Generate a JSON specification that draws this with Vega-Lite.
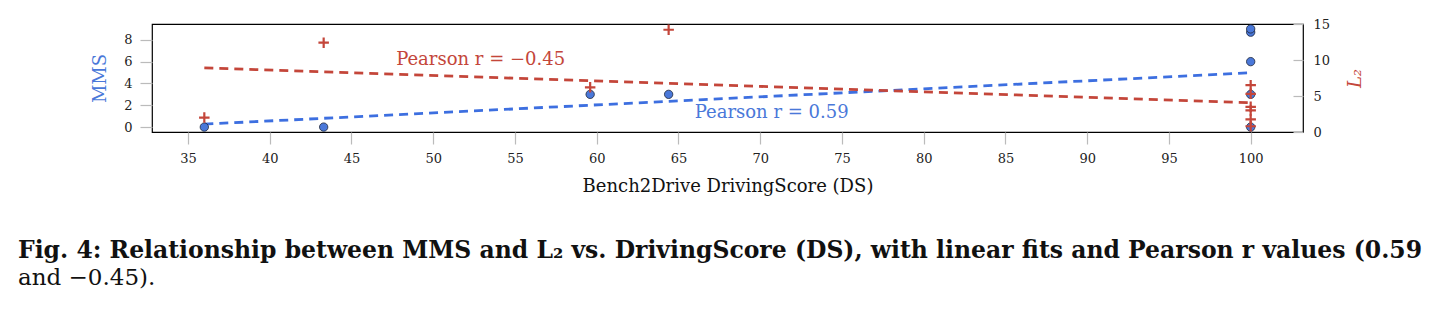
{
  "$schema": "https://vega.github.io/schema/vega-lite/v6.json",
  "width": 1151,
  "height": 108,
  "autosize": {"type": "none"},
  "padding": {"left": 152, "top": 24, "right": 139, "bottom": 182},
  "background": "white",
  "config": {
    "view": {"stroke": "#000000", "strokeWidth": 1.2},
    "font": "DejaVu Serif",
    "axis": {
      "labelFont": "DejaVu Serif",
      "titleFont": "DejaVu Serif",
      "grid": false,
      "domain": false,
      "tickColor": "#bbbbbb",
      "tickWidth": 1.2,
      "labelColor": "#222222",
      "labelFontSize": 13,
      "titleFontWeight": "normal",
      "titleFontSize": 18
    }
  },
  "datasets": {
    "mms": [
      {"ds": 36.0, "v": 0},
      {"ds": 43.3, "v": 0},
      {"ds": 59.6, "v": 3},
      {"ds": 64.4, "v": 3},
      {"ds": 100, "v": 0},
      {"ds": 100, "v": 3},
      {"ds": 100, "v": 6},
      {"ds": 100, "v": 8.7},
      {"ds": 100, "v": 9}
    ],
    "l2": [
      {"ds": 36.0, "v": 2.0},
      {"ds": 43.3, "v": 12.4},
      {"ds": 59.6, "v": 6.2},
      {"ds": 64.4, "v": 14.2},
      {"ds": 100, "v": 6.5},
      {"ds": 100, "v": 5.3},
      {"ds": 100, "v": 3.5},
      {"ds": 100, "v": 3.0},
      {"ds": 100, "v": 1.75},
      {"ds": 100, "v": 0.8}
    ],
    "fitMms": [
      {"ds": 36, "v": 0.27},
      {"ds": 100, "v": 4.98}
    ],
    "fitL2": [
      {"ds": 36, "v": 8.9},
      {"ds": 100, "v": 4.07}
    ],
    "labMms": [{"ds": 70.7, "v": 1.32, "t": "Pearson  r  =  0.59"}],
    "labL2": [{"ds": 52.9, "v": 10.0, "t": "Pearson  r  =  −0.45"}]
  },
  "encoding": {
    "x": {
      "field": "ds",
      "type": "quantitative",
      "scale": {"domain": [32.8, 103.2], "nice": false, "zero": false},
      "axis": {
        "orient": "bottom",
        "values": [35, 40, 45, 50, 55, 60, 65, 70, 75, 80, 85, 90, 95, 100],
        "tickSize": 12,
        "labelPadding": 8,
        "title": "Bench2Drive DrivingScore (DS)",
        "titlePadding": 12,
        "titleColor": "#111111"
      }
    }
  },
  "layer": [
    {
      "encoding": {
        "y": {
          "field": "v",
          "type": "quantitative",
          "scale": {"domain": [-0.45, 9.45], "nice": false, "zero": false},
          "axis": {
            "orient": "left",
            "values": [0, 2, 4, 6, 8],
            "tickSize": 12,
            "labelPadding": 8,
            "title": "MMS",
            "titleColor": "#4a78d9",
            "titlePadding": 14
          }
        }
      },
      "layer": [
        {
          "data": {"name": "fitMms"},
          "mark": {"type": "line", "color": "#3d6fe0", "strokeWidth": 2.8, "strokeDash": [9, 6]}
        },
        {
          "data": {"name": "mms"},
          "mark": {"type": "point", "shape": "circle", "filled": true, "fill": "#4a78d9", "stroke": "#1c2438", "strokeWidth": 0.8, "size": 70, "opacity": 1}
        },
        {
          "data": {"name": "labMms"},
          "mark": {"type": "text", "color": "#4a78d9", "fontSize": 18, "font": "DejaVu Serif"},
          "encoding": {"text": {"field": "t"}}
        }
      ]
    },
    {
      "encoding": {
        "y": {
          "field": "v",
          "type": "quantitative",
          "scale": {"domain": [0, 15], "nice": false, "zero": false},
          "axis": {
            "orient": "right",
            "values": [0, 5, 10, 15],
            "tickSize": -10,
            "labelPadding": 20,
            "title": "L₂",
            "titleFontStyle": "italic",
            "titleColor": "#c4463a",
            "titleAngle": 270,
            "titlePadding": 35
          }
        }
      },
      "layer": [
        {
          "data": {"name": "fitL2"},
          "mark": {"type": "line", "color": "#c4463a", "strokeWidth": 2.8, "strokeDash": [9, 6]}
        },
        {
          "data": {"name": "l2"},
          "mark": {"type": "point", "shape": "M-1,0L1,0M0,-1L0,1", "filled": false, "stroke": "#c4463a", "strokeWidth": 2.2, "size": 110, "opacity": 1}
        },
        {
          "data": {"name": "labL2"},
          "mark": {"type": "text", "color": "#c4463a", "fontSize": 18, "font": "DejaVu Serif"},
          "encoding": {"text": {"field": "t"}}
        }
      ]
    }
  ],
  "resolve": {"scale": {"y": "independent"}},
  "title": {
    "text": "Fig. 4: Relationship between MMS and L₂ vs. DrivingScore (DS), with linear fits and Pearson r values (0.59",
    "subtitle": "and −0.45).",
    "orient": "bottom",
    "anchor": "start",
    "frame": "group",
    "dx": -134,
    "offset": 44,
    "font": "DejaVu Serif",
    "fontSize": 23.5,
    "fontWeight": "bold",
    "color": "#111111",
    "subtitleFont": "DejaVu Serif",
    "subtitleFontSize": 23,
    "subtitleColor": "#111111",
    "subtitlePadding": 4
  }
}
